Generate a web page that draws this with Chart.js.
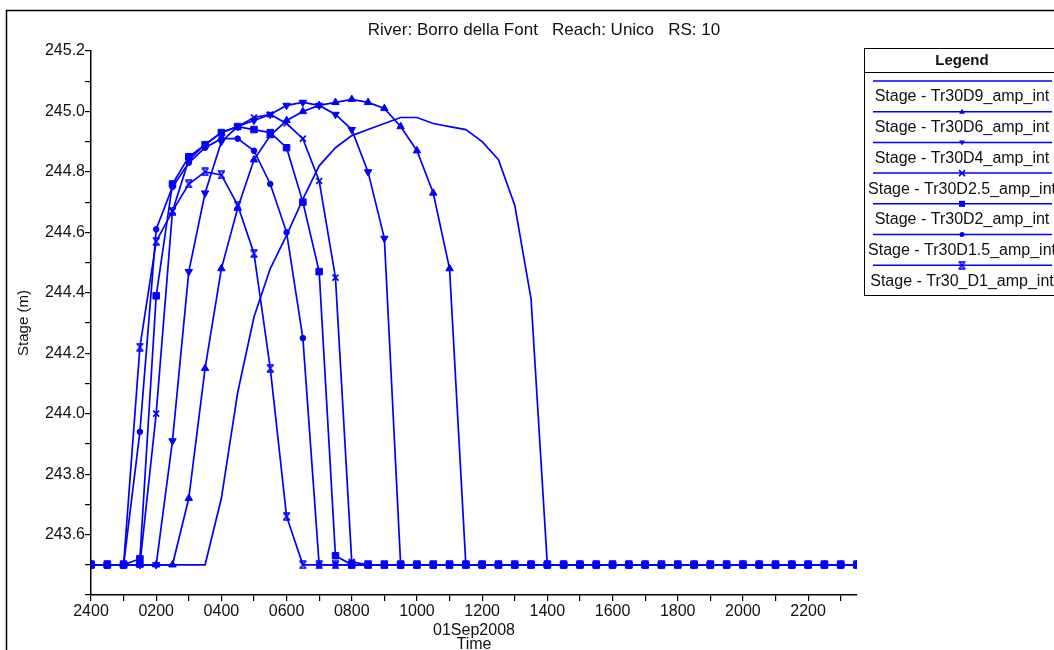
<!DOCTYPE html>
<html>
<head>
<meta charset="utf-8">
<script src="https://cdn.jsdelivr.net/npm/chart.js@4/dist/chart.umd.min.js"></script>
<style>
  body { margin: 0; background: #fff; }
  #wrap { width: 1054px; height: 650px; position: relative; }
</style>
</head>
<body>
<div id="wrap"><canvas id="stage" width="1054" height="650"></canvas></div>
<script>
// time in hours after 2400 (31Aug) - 30 min output interval
const hours = [0, 0.5, 1, 1.5, 2, 2.5, 3, 3.5, 4, 4.5, 5, 5.5, 6, 6.5, 7, 7.5, 8, 8.5, 9, 9.5,
  10, 10.5, 11, 11.5, 12, 12.5, 13, 13.5, 14, 14.5, 15, 15.5, 16, 16.5, 17, 17.5, 18, 18.5, 19, 19.5,
  20, 20.5, 21, 21.5, 22, 22.5, 23, 23.5];

const seriesNames = ['Stage - Tr30D9_amp_int', 'Stage - Tr30D6_amp_int', 'Stage - Tr30D4_amp_int',
  'Stage - Tr30D2.5_amp_int', 'Stage - Tr30D2_amp_int', 'Stage - Tr30D1.5_amp_int', 'Stage - Tr30_D1_amp_int'];

const stageD9 = [243.5, 243.5, 243.5, 243.5, 243.5, 243.5, 243.5, 243.5, 243.72, 244.07, 244.32, 244.48,
  244.59, 244.71, 244.82, 244.88, 244.92, 244.94, 244.96, 244.98, 244.98, 244.96, 244.95, 244.94, 244.9,
  244.84, 244.69, 244.38, 243.5, 243.5, 243.5, 243.5, 243.5, 243.5, 243.5, 243.5, 243.5, 243.5, 243.5,
  243.5, 243.5, 243.5, 243.5, 243.5, 243.5, 243.5, 243.5, 243.5];
const stageD6 = [243.5, 243.5, 243.5, 243.5, 243.5, 243.5, 243.72, 244.15, 244.48, 244.68, 244.84, 244.92,
  244.97, 245.0, 245.02, 245.03, 245.04, 245.03, 245.01, 244.95, 244.87, 244.73, 244.48, 243.5, 243.5,
  243.5, 243.5, 243.5, 243.5, 243.5, 243.5, 243.5, 243.5, 243.5, 243.5, 243.5, 243.5, 243.5, 243.5,
  243.5, 243.5, 243.5, 243.5, 243.5, 243.5, 243.5, 243.5, 243.5];
const stageD4 = [243.5, 243.5, 243.5, 243.5, 243.5, 243.91, 244.47, 244.73, 244.9, 244.95, 244.97, 244.99,
  245.02, 245.03, 245.02, 244.99, 244.94, 244.8, 244.58, 243.5, 243.5, 243.5, 243.5, 243.5, 243.5,
  243.5, 243.5, 243.5, 243.5, 243.5, 243.5, 243.5, 243.5, 243.5, 243.5, 243.5, 243.5, 243.5, 243.5,
  243.5, 243.5, 243.5, 243.5, 243.5, 243.5, 243.5, 243.5, 243.5];
const stageD25 = [243.5, 243.5, 243.5, 243.5, 244.0, 244.67, 244.84, 244.89, 244.93, 244.95, 244.98, 244.99,
  244.96, 244.91, 244.77, 244.45, 243.51, 243.5, 243.5, 243.5, 243.5, 243.5, 243.5, 243.5, 243.5,
  243.5, 243.5, 243.5, 243.5, 243.5, 243.5, 243.5, 243.5, 243.5, 243.5, 243.5, 243.5, 243.5, 243.5,
  243.5, 243.5, 243.5, 243.5, 243.5, 243.5, 243.5, 243.5, 243.5];
const stageD2 = [243.5, 243.5, 243.5, 243.52, 244.39, 244.76, 244.85, 244.89, 244.93, 244.95, 244.94, 244.93,
  244.88, 244.7, 244.47, 243.53, 243.5, 243.5, 243.5, 243.5, 243.5, 243.5, 243.5, 243.5, 243.5,
  243.5, 243.5, 243.5, 243.5, 243.5, 243.5, 243.5, 243.5, 243.5, 243.5, 243.5, 243.5, 243.5, 243.5,
  243.5, 243.5, 243.5, 243.5, 243.5, 243.5, 243.5, 243.5, 243.5];
const stageD15 = [243.5, 243.5, 243.5, 243.94, 244.61, 244.75, 244.83, 244.88, 244.91, 244.91, 244.87, 244.76,
  244.6, 244.25, 243.5, 243.5, 243.5, 243.5, 243.5, 243.5, 243.5, 243.5, 243.5, 243.5, 243.5,
  243.5, 243.5, 243.5, 243.5, 243.5, 243.5, 243.5, 243.5, 243.5, 243.5, 243.5, 243.5, 243.5, 243.5,
  243.5, 243.5, 243.5, 243.5, 243.5, 243.5, 243.5, 243.5, 243.5];
const stageD1 = [243.5, 243.5, 243.5, 244.22, 244.57, 244.67, 244.76, 244.8, 244.79, 244.69, 244.53, 244.15,
  243.66, 243.5, 243.5, 243.5, 243.5, 243.5, 243.5, 243.5, 243.5, 243.5, 243.5, 243.5, 243.5,
  243.5, 243.5, 243.5, 243.5, 243.5, 243.5, 243.5, 243.5, 243.5, 243.5, 243.5, 243.5, 243.5, 243.5,
  243.5, 243.5, 243.5, 243.5, 243.5, 243.5, 243.5, 243.5, 243.5];

const BLUE = '#0000ff';
const FONT = "'Liberation Sans', Arial, sans-serif";

// hourglass marker (x with bars top and bottom)
function makeHourglass() {
    const c = document.createElement('canvas');
    c.width = 9; c.height = 9;
    const g = c.getContext('2d');
    g.strokeStyle = BLUE;
    g.lineWidth = 1.6;
    g.beginPath();
    g.moveTo(1, 1); g.lineTo(8, 1);
    g.moveTo(1, 8); g.lineTo(8, 8);
    g.moveTo(1.5, 1); g.lineTo(7.5, 8);
    g.moveTo(7.5, 1); g.lineTo(1.5, 8);
    g.stroke();
    return c;
}
const hourglass = makeHourglass();

const markers = [
    { style: 'line', radius: 0, rot: 0 },
    { style: 'triangle', radius: 4.3, rot: 0 },
    { style: 'triangle', radius: 4.3, rot: 180 },
    { style: 'crossRot', radius: 4.2, rot: 0 },
    { style: 'rect', radius: 4.6, rot: 0 },
    { style: 'circle', radius: 2.8, rot: 0 },
    { style: hourglass, radius: 4, rot: 0 }
];
const allStages = [stageD9, stageD6, stageD4, stageD25, stageD2, stageD15, stageD1];

function toPoints(vals) {
    return vals.map((v, i) => ({ x: hours[i], y: v }));
}

const datasets = allStages.map((vals, k) => ({
    label: seriesNames[k],
    data: toPoints(vals),
    borderColor: BLUE,
    backgroundColor: BLUE,
    borderWidth: 1.7,
    pointStyle: markers[k].style,
    pointRadius: markers[k].radius,
    pointRotation: markers[k].rot,
    pointBorderWidth: markers[k].style === 'crossRot' ? 1.7 : 1,
    tension: 0
}));

function hhmm(h) {
    if (h === 0) return '2400';
    return String(h * 100).padStart(4, '0');
}

// title, frame and the HEC-RAS style legend box
const decor = {
    id: 'decor',
    afterDraw(chart) {
        const ctx = chart.ctx;
        ctx.save();
        ctx.strokeStyle = '#000';
        ctx.lineWidth = 1.5;
        ctx.beginPath();
        ctx.moveTo(6.5, 650); ctx.lineTo(6.5, 10.5); ctx.lineTo(1054, 10.5);
        ctx.stroke();

        ctx.fillStyle = '#111';
        ctx.font = '17px ' + FONT;
        ctx.textAlign = 'center';
        ctx.textBaseline = 'middle';
        ctx.fillText('River: Borro della Font   Reach: Unico   RS: 10', 544, 30);

        // legend
        const lx = 864, ly = 48, lw = 200, lh = 247;
        ctx.lineWidth = 1;
        ctx.strokeRect(lx + 0.5, ly + 0.5, lw, lh);
        ctx.beginPath();
        ctx.moveTo(lx, 72.5); ctx.lineTo(lx + lw, 72.5);
        ctx.stroke();
        ctx.font = 'bold 15px ' + FONT;
        ctx.fillText('Legend', 962, 61);
        ctx.font = '16px ' + FONT;
        for (let k = 0; k < seriesNames.length; k++) {
            const y = 81 + k * 30.7;
            ctx.strokeStyle = BLUE;
            ctx.lineWidth = 1.5;
            ctx.beginPath();
            ctx.moveTo(873, y); ctx.lineTo(1052, y);
            ctx.stroke();
            drawMarker(ctx, k, 962, y);
            ctx.fillStyle = '#111';
            ctx.fillText(seriesNames[k], 962, y + 16);
        }
        ctx.restore();
    }
};

function drawMarker(ctx, k, x, y) {
    const m = markers[k];
    ctx.save();
    ctx.fillStyle = BLUE;
    ctx.strokeStyle = BLUE;
    ctx.beginPath();
    if (m.style === 'triangle') {
        const s = m.rot ? -1 : 1;
        ctx.moveTo(x, y - 3 * s); ctx.lineTo(x + 3, y + 2 * s); ctx.lineTo(x - 3, y + 2 * s);
        ctx.closePath(); ctx.fill();
    } else if (m.style === 'crossRot') {
        ctx.lineWidth = 1.5;
        ctx.moveTo(x - 3, y - 3); ctx.lineTo(x + 3, y + 3);
        ctx.moveTo(x + 3, y - 3); ctx.lineTo(x - 3, y + 3);
        ctx.stroke();
    } else if (m.style === 'rect') {
        ctx.fillRect(x - 3, y - 3, 6, 6);
    } else if (m.style === 'circle') {
        ctx.arc(x, y, 2.5, 0, Math.PI * 2); ctx.fill();
    } else if (m.style !== 'line') {
        ctx.drawImage(m.style, x - 4.5, y - 4.5);
    }
    ctx.restore();
}

new Chart(document.getElementById('stage'), {
    type: 'line',
    data: { datasets: datasets },
    plugins: [decor],
    options: {
        responsive: false,
        animation: false,
        layout: { padding: { top: 51, right: 197, bottom: 0, left: 0 } },
        plugins: { legend: { display: false }, title: { display: false }, tooltip: { enabled: false } },
        scales: {
            x: {
                type: 'linear',
                min: 0,
                max: 23.5,
                afterFit(scale) { scale.height = 55; },
                border: { display: true, color: '#000', width: 1.5 },
                grid: { drawOnChartArea: false, drawTicks: true, tickLength: 6, color: '#000', lineWidth: 1.2 },
                ticks: {
                    stepSize: 1,
                    includeBounds: false,
                    autoSkip: false,
                    maxRotation: 0,
                    padding: 1,
                    color: '#111',
                    font: { family: FONT, size: 16 },
                    callback: (v) => (v % 2 === 0 ? hhmm(v) : '')
                },
                title: {
                    display: true,
                    text: ['01Sep2008', 'Time'],
                    color: '#111',
                    font: { family: FONT, size: 16, lineHeight: '14px' },
                    padding: { top: 0, bottom: -2 }
                }
            },
            y: {
                type: 'linear',
                min: 243.4,
                max: 245.2,
                afterFit(scale) { scale.width = 91; },
                border: { display: true, color: '#000', width: 1.5 },
                grid: { drawOnChartArea: false, drawTicks: true, tickLength: 6, color: '#000', lineWidth: 1.2 },
                ticks: {
                    stepSize: 0.1,
                    autoSkip: false,
                    padding: 0,
                    color: '#111',
                    font: { family: FONT, size: 16 },
                    callback: (v) => {
                        const t = Math.round(v * 10);
                        if (t % 2 !== 0 || t < 2435) return '';
                        return (t / 10).toFixed(1);
                    }
                },
                title: {
                    display: true,
                    text: 'Stage (m)',
                    color: '#111',
                    font: { family: FONT, size: 15 },
                    padding: { top: 15, bottom: 0 }
                }
            }
        }
    }
});
</script>
</body>
</html>
